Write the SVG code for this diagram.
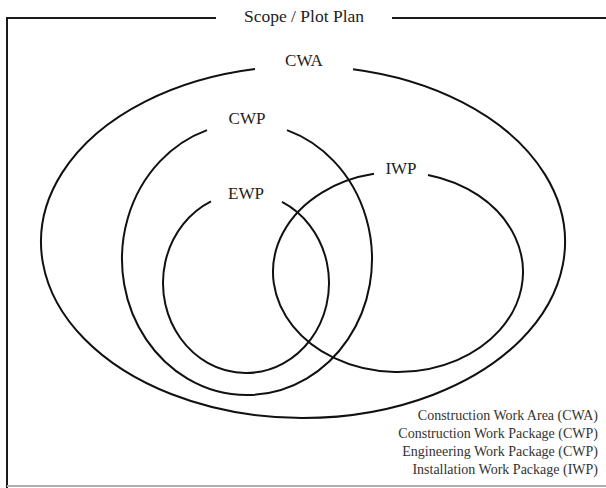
<svg xmlns="http://www.w3.org/2000/svg" width="606" height="488" viewBox="0 0 606 488">
<style>
.frame{fill:none;stroke:#1a1a1a;stroke-width:2}
.bottom{fill:none;stroke:#b0b0b0;stroke-width:2}
.ring{fill:none;stroke:#111;stroke-width:2}
.lbl{font-family:"Liberation Serif","Times New Roman",serif;font-size:17px;fill:#222;text-anchor:middle}
.title{font-family:"Liberation Serif","Times New Roman",serif;font-size:17.5px;fill:#222;text-anchor:middle}
.legend{font-family:"Liberation Serif","Times New Roman",serif;font-size:14px;fill:#333;text-anchor:end}
</style>
<rect width="606" height="488" fill="#fff"/>
<g id="frame">
<path class="frame" d="M7 488 V18 H216 M392 18 H606"/>
<line class="bottom" x1="7" y1="486" x2="606" y2="486"/>
<text class="title" x="304" y="22">Scope / Plot Plan</text>
</g>
<g id="cwa">
<path class="ring" d="M353 69.23 A262 176 0 1 1 255 68.98"/>
<text class="lbl" x="304" y="66">CWA</text>
</g>
<g id="cwp">
<path class="ring" d="M287 130.15 A125 136 0 1 1 207 130.15"/>
<text class="lbl" x="247" y="124">CWP</text>
</g>
<g id="ewp">
<path class="ring" d="M282 201.9 A83 90 0 1 1 211 201.4"/>
<text class="lbl" x="246" y="199">EWP</text>
</g>
<g id="iwp">
<path class="ring" d="M428 174.92 A125 100 0 1 1 374 173.86"/>
<text class="lbl" x="401" y="174">IWP</text>
</g>
<g id="legend">
<text class="legend" x="598" y="420">Construction Work Area (CWA)</text>
<text class="legend" x="598" y="438">Construction Work Package (CWP)</text>
<text class="legend" x="598" y="456">Engineering Work Package (CWP)</text>
<text class="legend" x="598" y="474">Installation Work Package (IWP)</text>
</g>
<g id="connectors"></g>
</svg>
